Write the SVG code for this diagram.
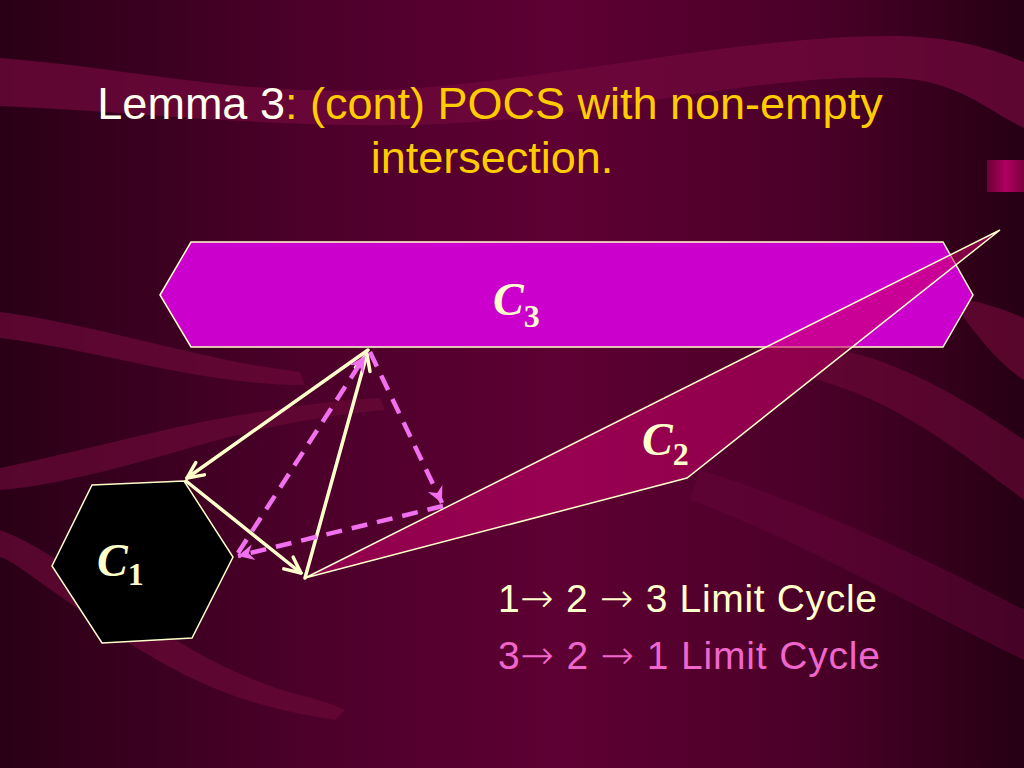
<svg xmlns="http://www.w3.org/2000/svg" width="1024" height="768" viewBox="0 0 1024 768">
<defs>
<linearGradient id="bg" x1="0" y1="0" x2="1" y2="0">
<stop offset="0" stop-color="#2a0016"/>
<stop offset="0.3" stop-color="#4c002a"/>
<stop offset="0.55" stop-color="#5e0033"/>
<stop offset="0.8" stop-color="#4a0028"/>
<stop offset="1" stop-color="#260013"/>
</linearGradient>
<linearGradient id="tab" x1="0" y1="0" x2="1" y2="0">
<stop offset="0" stop-color="#6a0035"/>
<stop offset="0.5" stop-color="#b00060"/>
<stop offset="1" stop-color="#7a003e"/>
</linearGradient>
<marker id="ac" markerUnits="userSpaceOnUse" markerWidth="24" markerHeight="24" viewBox="-20 -12 24 24" refX="0" refY="0" orient="auto">
<path d="M-16,-7.5 L0,0 L-16,7.5" fill="none" stroke="#ffffcc" stroke-width="3.5" stroke-linecap="round" stroke-linejoin="round"/>
</marker>
<marker id="am" markerUnits="userSpaceOnUse" markerWidth="24" markerHeight="24" viewBox="-20 -12 24 24" refX="0" refY="0" orient="auto">
<path d="M-16,-8 L0,0 L-16,8 L-11,0 Z" fill="#f070f0"/>
</marker>
</defs>
<style>
.title{font-family:"Liberation Sans",Arial,sans-serif;font-size:45px}
.cyc{font-family:"Liberation Sans",Arial,sans-serif;font-size:39px}
.ar{font-family:"DejaVu Sans",sans-serif;font-size:40px;font-weight:200}
.lab{font-family:"Liberation Serif","Times New Roman",serif;font-weight:bold;fill:#ffffcc}
.lab .c{font-style:italic;font-size:46px}
.lab .s{font-size:32px}
.cr{fill:none;stroke:#ffffcc;stroke-width:3.5;stroke-linecap:round}
.mg{fill:none;stroke:#f070f0;stroke-width:4.5;stroke-dasharray:16,10}
.set{stroke:#ffffcc;stroke-width:1.5;stroke-linejoin:miter}
.band{fill:#6a0838}
</style>
<g id="background">
<rect x="0" y="0" width="1024" height="768" fill="url(#bg)"/>
<path d="M0,58 C150,70 250,100 420,88 C600,72 760,34 900,36 C970,38 1005,55 1024,62 L1024,128 C990,112 960,82 900,78 C760,72 600,118 440,124 C290,130 140,112 0,106 Z" fill="#70083c" opacity="0.75"/>
<path class="band" d="M0,312 C100,325 200,360 300,372 L305,385 C200,385 100,350 0,338 Z" opacity="0.75"/>
<path class="band" d="M0,468 C90,450 170,425 260,412 C300,405 340,400 380,398 L385,410 C330,415 270,425 200,445 C130,465 60,485 0,490 Z" opacity="0.7"/>
<path class="band" d="M0,530 C40,545 80,575 130,610 C180,645 240,680 300,695 C320,700 335,705 345,710 L335,720 C300,715 250,705 200,682 C140,655 80,610 30,575 C20,568 10,560 0,557 Z" opacity="0.7"/>
<path d="M950,298 C980,300 1005,310 1024,318 L1024,380 C1000,365 975,335 950,298 Z" fill="#6e0838" opacity="0.7"/>
<path d="M850,352 C920,370 980,410 1024,440 L1024,500 C970,460 900,400 810,378 Z" fill="#6e0838" opacity="0.6"/>
<path d="M700,470 C800,500 930,560 1024,610 L1024,660 C920,610 800,540 690,500 Z" fill="#66063a" opacity="0.5"/>
<rect x="987" y="160" width="37" height="32" fill="url(#tab)"/>
</g>
<g id="title">
<text class="title" x="490" y="119" text-anchor="middle"><tspan fill="#fffff0">Lemma 3</tspan><tspan fill="#ffcc00">: (cont) POCS with non-empty</tspan></text>
<text class="title" x="492" y="173" text-anchor="middle" fill="#ffcc00">intersection.</text>
</g>
<g id="C3">
<polygon class="set" points="160,295 191,242 943,242 973,295 943,347 191,347" fill="#cc00cc"/>
<text class="lab" x="493" y="315"><tspan class="c">C</tspan><tspan class="s" dy="12">3</tspan></text>
</g>
<g id="C2">
<polygon class="set" points="305,578 1000,230 687,478" fill="#c8006a" fill-opacity="0.55"/>
<text class="lab" x="642" y="455"><tspan class="c">C</tspan><tspan class="s" dy="10">2</tspan></text>
</g>
<g id="C1">
<polygon class="set" points="92,485 184,481 233,557 192,638 102,643 52,566" fill="#000000"/>
<text class="lab" x="97" y="576"><tspan class="c">C</tspan><tspan class="s" dy="9">1</tspan></text>
</g>
<g id="connectors">
<line class="cr" x1="368" y1="350" x2="187" y2="478" marker-end="url(#ac)"/>
<line class="cr" x1="186" y1="481" x2="301" y2="573" marker-end="url(#ac)"/>
<line class="cr" x1="305" y1="578" x2="367" y2="354" marker-end="url(#ac)"/>
<line class="mg" x1="370" y1="352" x2="442" y2="503" marker-end="url(#am)"/>
<line class="mg" x1="443" y1="506" x2="238" y2="556" marker-end="url(#am)"/>
<line class="mg" x1="238" y1="553" x2="365" y2="356" marker-end="url(#am)"/>
</g>
<g id="legend">
<text class="cyc" x="498" y="612" fill="#ffffcc" textLength="379" lengthAdjust="spacing">1<tspan class="ar">→</tspan> 2 <tspan class="ar">→</tspan> 3 Limit Cycle</text>
<text class="cyc" x="498" y="669" fill="#f066cc" textLength="382" lengthAdjust="spacing">3<tspan class="ar">→</tspan> 2 <tspan class="ar">→</tspan> 1 Limit Cycle</text>
</g>
</svg>
